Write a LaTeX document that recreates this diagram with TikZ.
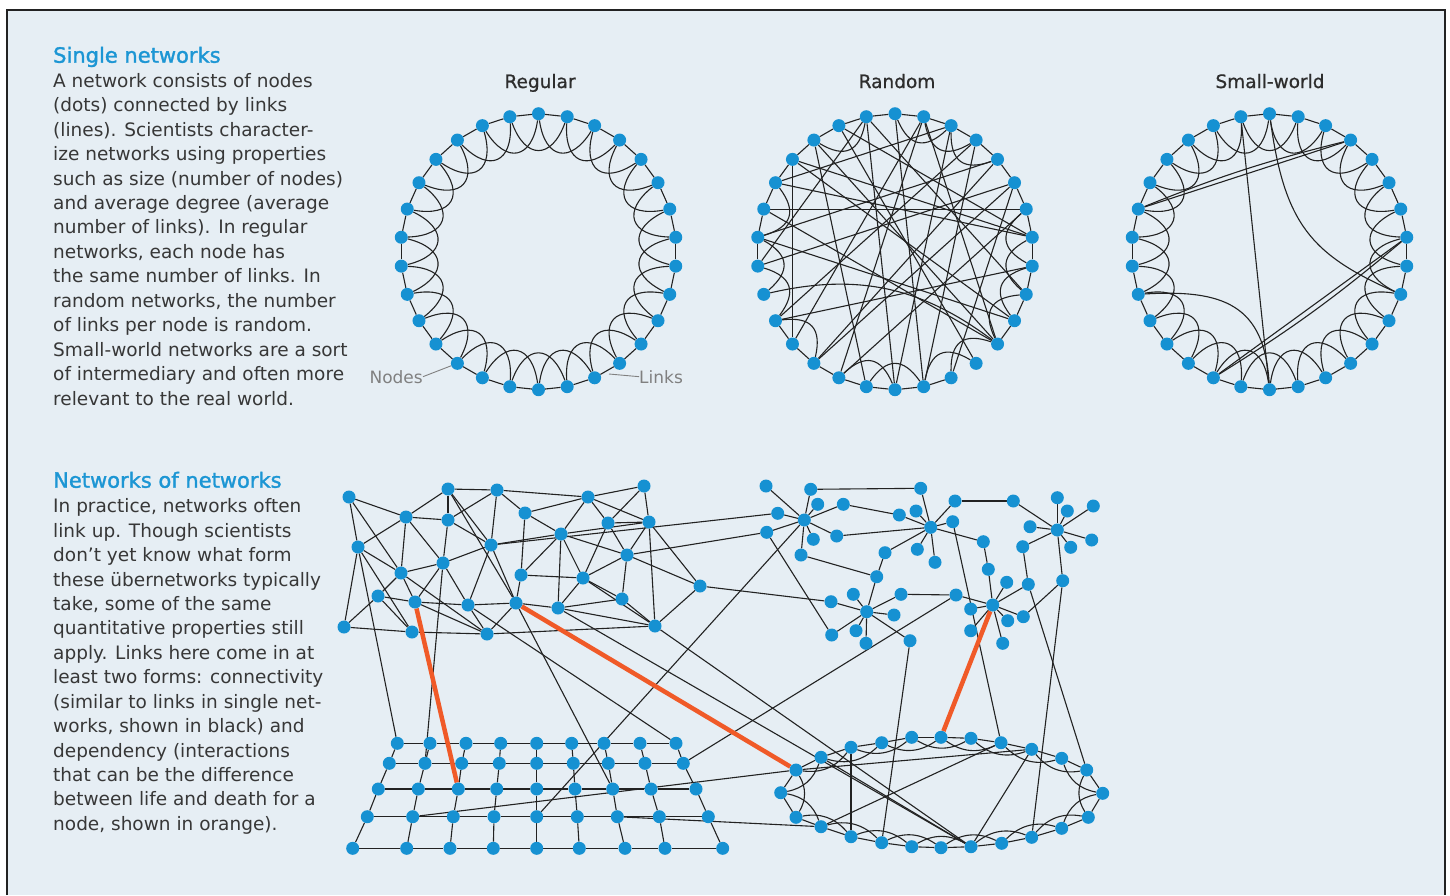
\documentclass[tikz,border=0pt]{standalone}
\usepackage{fontspec}
\setmainfont{DejaVu Sans}
\newfontfamily\headfont{DejaVu Sans}[FakeBold=1.5]
\newfontfamily\titlefont{DejaVu Sans}[FakeBold=0.8]
\usetikzlibrary{calc}

\definecolor{paperblue}{RGB}{230,238,244}
\definecolor{netblue}{RGB}{22,145,210}
\definecolor{headblue}{RGB}{28,150,212}
\definecolor{wirecol}{RGB}{34,34,34}
\definecolor{deporange}{RGB}{240,90,40}
\definecolor{bodygrey}{RGB}{55,55,55}
\definecolor{titlegrey}{RGB}{45,45,45}
\definecolor{calloutgrey}{RGB}{128,128,128}

\pgfdeclarelayer{paper}
\pgfdeclarelayer{edges}
\pgfsetlayers{paper,edges,main}

\tikzset{
  netdot/.style={circle, fill=netblue, inner sep=0pt, minimum size=13pt},
  wire/.style={draw=wirecol, line width=1.1pt},
  depwire/.style={draw=deporange, line width=4.5pt},
  headtext/.style={font=\fontsize{21}{24}\selectfont\headfont, text=headblue, inner sep=0pt, anchor=base west},
  bodytext/.style={font=\fontsize{18.5}{24}\selectfont, text=bodygrey, inner sep=0pt, anchor=base west},
  charttitle/.style={font=\fontsize{18.5}{22}\selectfont\titlefont, text=titlegrey, inner sep=0pt, anchor=base},
  callout/.style={font=\fontsize{17}{20}\selectfont, text=calloutgrey, inner sep=0pt},
  leader/.style={draw=calloutgrey, line width=0.9pt},
}

\begin{document}
\begin{tikzpicture}[x=1pt,y=-1pt]
\useasboundingbox (0,0) rectangle (1450,895);
\begin{pgfonlayer}{paper}
\fill[paperblue] (7,10) rectangle (1445,895);
\draw[wirecol, line width=1.6pt] (7,895) -- (7,10) -- (1445,10) -- (1445,895);
\end{pgfonlayer}

%text blocks
\node[headtext] (hd1) at (53,62.7) {Single networks};
\foreach \t [count=\i from 0] in {{A network consists of nodes},{(dots) connected by links},
  {(lines). Scientists character-},{ize networks using properties},{such as size (number of nodes)},
  {and average degree (average},{number of links). In regular},{networks, each node has},
  {the same number of links. In},{random networks, the number},{of links per node is random.},
  {Small-world networks are a sort},{of intermediary and often more},{relevant to the real world.}}
  \node[bodytext] (sa\i) at (53,{87.3+24.44*\i}) {\t};
\node[headtext] (hd2) at (53,487.7) {Networks of networks};
\foreach \t [count=\i from 0] in {{In practice, networks often},{link up. Though scientists},
  {don’t yet know what form},{these übernetworks typically},{take, some of the same},
  {quantitative properties still},{apply. Links here come in at},{least two forms: connectivity},
  {(similar to links in single net-},{works, shown in black) and},{dependency (interactions},
  {that can be the difference},{between life and death for a},{node, shown in orange).}}
  \node[bodytext] (sb\i) at (53,{512.7+24.44*\i}) {\t};

%titles
\node[charttitle] (treg) at (540,88) {Regular};
\node[charttitle] (tran) at (897,88) {Random};
\node[charttitle] (tsw) at (1270,88) {Small-world};

%ring nodes
\foreach \k in {0,...,29} {
  \node[netdot] (r\k) at ({538.5+138*cos(90+12*\k)},{251.7-138*sin(90+12*\k)}) {};
  \node[netdot] (q\k) at ({895+138*cos(90+12*\k)},{251.7-138*sin(90+12*\k)}) {};
  \node[netdot] (w\k) at ({1269.5+138*cos(90+12*\k)},{251.7-138*sin(90+12*\k)}) {};
}
\node[callout, anchor=base east] (lblnodes) at (423,383) {Nodes};
\node[callout, anchor=base west] (lbllinks) at (639,383) {Links};
\coordinate (lk) at (609,374);

%mesh network
\foreach \x/\y [count=\k] in {349/497,448/489,497/490,588/497,644/486,406/517,448/520,525/513,
  608/523,649/522,358/547,491/545,561/534,627/555,443/563,401/573,521/575,583/578,700/586,
  378/596,415/602,468/605,516/603,558/608,622/599,344/627,412/632,487/634,655/626}
  \node[netdot] (m\k) at (\x,\y) {};

%star clusters
\node[netdot] (ha) at (804.3,520) {};
\node[netdot] (hb) at (930.7,527.3) {};
\node[netdot] (hc) at (1057.3,530) {};
\node[netdot] (hd) at (866.7,611.7) {};
\node[netdot] (he) at (992.7,605) {};
\foreach \x/\y [count=\k] in {766/486,810.7/489.3,817.7/504.3,843.3/504.3,777.7/513.3,766.7/532.3,813.3/539.3,836.7/536,801/555}
  \node[netdot] (a\k) at (\x,\y) {};
\foreach \x/\y [count=\k] in {920.7/488.3,955/501,899.3/515,916/511,952.7/521.7,983.3/541.7,917.3/549.3,935/562.3,885/552.7,1013.3/501}
  \node[netdot] (b\k) at (\x,\y) {};
\foreach \x/\y [count=\k] in {1057.3/497.7,1067.3/511,1093.3/506,1030/526.7,1022.7/546.7,1070.7/547.3,1091.7/540}
  \node[netdot] (c\k) at (\x,\y) {};
\foreach \x/\y [count=\k] in {831/601.7,853.3/594.3,901/594.3,894/615,831.7/635,856/630.7,866/643.3,910/640.7,876.7/576.7}
  \node[netdot] (d\k) at (\x,\y) {};
\foreach \x/\y [count=\k] in {956/595,970.7/609,970.7/630.7,1006.7/582.3,1028.3/584.3,1023.3/616.7,1007.7/620.7,1002.7/643.3,988.3/569.3,1062.7/580.7}
  \node[netdot] (f\k) at (\x,\y) {};

%grid network
\foreach \x [count=\c] in {397.3,430,466,500.7,536.7,571.7,604,640,676} \node[netdot] (g1\c) at (\x,743.3) {};
\foreach \x [count=\c] in {389.3,425,461.7,499.3,536.7,573.3,608.3,645,683.3} \node[netdot] (g2\c) at (\x,763.3) {};
\foreach \x [count=\c] in {378.3,418.3,458.3,496.7,536.7,575,612.7,651,696} \node[netdot] (g3\c) at (\x,789) {};
\foreach \x [count=\c] in {367.3,412.7,453.3,494,536.7,577.3,617.3,659.3,708.3} \node[netdot] (g4\c) at (\x,816.7) {};
\foreach \x [count=\c] in {352.7,406.7,450,493.3,536.7,579.3,625,665,722.7} \node[netdot] (g5\c) at (\x,848.3) {};

%oval network
\foreach \x/\y [count=\k from 0] in {1102.7/793.3,1086.7/770,1061.7/758.3,1031.7/749.3,1001/742.7,971/738.3,
  941/737.3,911.7/737.3,881.7/742.7,851/747.3,821/757.3,796/770,780.7/792.7,796/817.3,821/826.7,851/836.7,
  881.7/842.7,911.7/846.7,941/847.7,971/846.7,1001.7/843.3,1031.7/837.3,1061.7/828.3,1088.3/817.3}
  \node[netdot] (o\k) at (\x,\y) {};

\begin{pgfonlayer}{edges}
%regular and small-world rings
\foreach \k in {0,...,29} {
  \pgfmathtruncatemacro{\n}{mod(\k+1,30)}
  \pgfmathtruncatemacro{\nn}{mod(\k+2,30)}
  \draw[wire] (r\k) -- (r\n);
  \draw[wire] (r\k) to[bend left=70, looseness=1.9] (r\nn);
  \draw[wire] (w\k) -- (w\n);
  \draw[wire] (w\k) to[bend left=70, looseness=1.9] (w\nn);
}
\draw[leader] (lblnodes.east) -- (r12);
\draw[leader] (lk) -- (lbllinks.west);
%small-world shortcuts
\draw[wire] (w6) -- (w27);
\draw[wire] (w6) to[bend left=4] (w27);
\draw[wire] (w1) -- (w15);
\draw[wire] (w0) .. controls +(15,110) and +(-90,-40) .. (w21);
\draw[wire] (w9) .. controls +(85,-5) and +(-5,-85) .. (w15);
\draw[wire] (w13) -- (w23);
\draw[wire] (w13) to[bend right=4] (w23);
%random ring
\foreach \a/\b in {0/1,1/2,2/3,3/4,4/5,5/6,6/7,7/8,10/11,11/12,12/13,13/14,14/15,15/16,16/17,
  19/20,20/21,21/22,22/23,23/24,24/25,25/26,26/27,27/28,28/29,29/0}
  \draw[wire] (q\a) -- (q\b);
\foreach \a/\b in {1/3,28/0,27/29,26/28,5/7,7/9,8/10,10/12,13/15,14/16,16/18,17/19,19/21,20/22,21/23,22/24}
  \draw[wire] (q\a) to[bend left=55, looseness=1.5] (q\b);
\foreach \a/\b in {6/24,4/11,1/15,0/16,29/13,27/10,25/12,5/23,3/19,2/23,26/7,28/5,8/25,10/22,3/14,
  15/28,16/27,6/19,1/8,4/23,2/18,11/29,13/24,17/25,20/4,21/1,7/20,19/29,12/26}
  \draw[wire] (q\a) -- (q\b);
\draw[wire] (q9) to[bend left=25] (q19);
%mesh links
\foreach \a/\b in {1/6,1/11,1/16,2/3,2/6,2/7,2/12,2/23,3/7,3/12,3/8,3/4,4/5,4/8,4/13,4/9,4/10,5/10,5/9,
  6/7,6/11,6/16,6/15,7/15,7/12,8/13,8/17,9/10,13/10,9/18,9/14,10/14,10/29,10/19,11/16,11/26,11/27,
  12/15,12/13,12/22,12/23,13/17,13/18,13/24,13/14,14/18,14/25,14/19,15/16,15/21,15/22,16/20,16/21,
  16/28,17/18,17/23,18/24,18/29,18/25,19/29,20/21,20/26,20/27,21/22,21/28,22/23,22/28,23/24,23/28,
  24/25,24/29,25/29,26/27,27/28,28/29}
  \draw[wire] (m\a) -- (m\b);
%cluster spokes
\foreach \k in {1,...,9} {
  \draw[wire] (ha) -- (a\k);
  \draw[wire] (hb) -- (b\k);
  \draw[wire] (hd) -- (d\k);
  \draw[wire] (he) -- (f\k);
}
\foreach \k in {1,...,7} \draw[wire] (hc) -- (c\k);
\draw[wire] (a2) -- (b1);
\draw[wire] (a4) -- (b3);
\draw[wire] (a8) -- (hb);
\draw[wire] (a9) -- (d9);
\draw[wire] (d9) -- (b9);
\draw[wire] (b2) -- (b10);
\draw[wire] (b10) -- (hc);
\draw[wire] (b6) -- (f9);
\draw[wire] (c5) -- (f5);
\draw[wire] (f10) -- (hc);
\draw[wire] (f10) -- (f6);
\draw[wire] (d3) -- (f1);
\draw[wire] (a6) -- (d5);
\draw[wire] (m19) -- (d1);
\draw[wire] (m12) -- (a5);
\draw[wire] (m14) -- (a6);
%grid links
\foreach \r in {1,...,5}
  \foreach \c [count=\cc from 2] in {1,...,8}
    \draw[wire] (g\r\c) -- (g\r\cc);
\foreach \r [count=\rr from 2] in {1,...,4}
  \foreach \c in {1,...,9}
    \draw[wire] (g\r\c) -- (g\rr\c);
%oval links
\foreach \k in {0,...,23} {
  \pgfmathtruncatemacro{\n}{mod(\k+1,24)}
  \pgfmathtruncatemacro{\nn}{mod(\k+2,24)}
  \draw[wire] (o\k) -- (o\n);
  \draw[wire] (o\k) to[bend left=30] (o\nn);
}
\foreach \a/\b in {9/15,10/19,11/3,14/4,19/3}
  \draw[wire] (o\a) -- (o\b);
%links between networks
\draw[wire] (ha) -- (g45);
\draw[wire] (f1) -- (g29);
\draw[wire] (d8) -- (o16);
\draw[wire] (b5) -- (o4);
\draw[wire] (f5) -- (o1);
\draw[wire] (f10) -- (o21);
\draw[wire] (m29) -- (o19);
\draw[wire] (m24) -- (o19);
\draw[wire] (m11) -- (g11);
\draw[wire] (m15) -- (g22);
\draw[wire] (m22) -- (g19);
\draw[wire] (m23) -- (g37);
\draw[wire] (g42) -- (o11);
\draw[wire] (g47) -- (o14);
%dependency links
\draw[depwire] (m21) -- (g33);
\draw[depwire] (m23) -- (o11);
\draw[depwire] (he) -- (o6);
\end{pgfonlayer}
\end{tikzpicture}
\end{document}
